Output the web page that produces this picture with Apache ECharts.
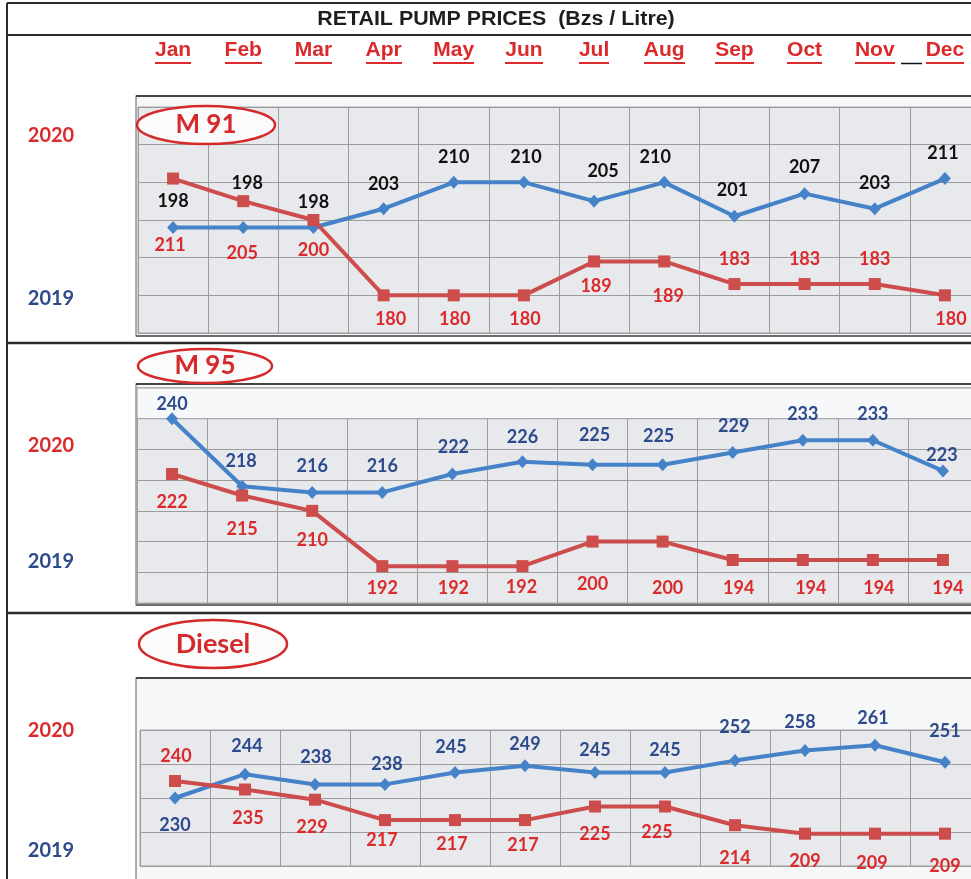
<!DOCTYPE html>
<html>
<head>
<meta charset="utf-8">
<script src="https://cdn.jsdelivr.net/npm/echarts@6/dist/echarts.min.js"></script>
<style>
html,body{margin:0;padding:0;background:#fff;overflow:hidden;width:971px;height:879px;}
#chart{width:990px;height:879px;}
</style>
</head>
<body>
<div id="chart"></div>
<script>
// ---------------- DATA ----------------
const titleText = 'RETAIL PUMP PRICES  (Bzs / Litre)';
const months = ['Jan','Feb','Mar','Apr','May','Jun','Jul','Aug','Sep','Oct','Nov','Dec'];
const yearLabels = ['2020', '2019'];
const productNames = ['M 91', 'M 95', 'Diesel'];

const m91_2019 = [198,198,198,203,210,210,205,210,201,207,203,211];
const m91_2020 = [211,205,200,180,180,180,189,189,183,183,183,180];
const m95_2019 = [240,218,216,216,222,226,225,225,229,233,233,223];
const m95_2020 = [222,215,210,192,192,192,200,200,194,194,194,194];
const diesel_2019 = [230,244,238,238,245,249,245,245,252,258,261,251];
const diesel_2020 = [240,235,229,217,217,217,225,225,214,209,209,209];

// axis ranges per panel [min, max, interval]
const m91Axis = [170, 230, 10];
const m95Axis = [180, 250, 10];
const dieselAxis = [190, 270, 20];

// ---------------- LABEL PLACEMENT (style) ----------------
const m91_2019_lab = [[0,-26],[4,-44],[0,-25],[0,-25],[0,-25],[2,-25],[9,-30],[-9,-25],[-2,-26],[0,-26],[0,-26],[-2,-25]];
const m91_2020_lab = [[-3,67],[-1,52],[0,30],[7,24],[1,24],[1,24],[2,25],[4,35],[0,-25],[0,-25],[0,-25],[6,24]];
const m95_2019_lab = [[0,-15],[-1,-25],[0,-26],[0,-26],[1,-27],[0,-25],[2,-30],[-4,-29],[1,-26],[0,-26],[0,-26],[-1,-16]];
const m95_2020_lab = [[0,28],[0,34],[0,29],[0,22],[1,22],[-1,21],[0,43],[5,47],[6,28],[8,28],[6,28],[5,28]];
const diesel_2019_lab = [[0,27],[2,-28],[1,-27],[2,-20],[-4,-25],[0,-22],[0,-22],[0,-22],[0,-33],[-5,-28],[-2,-27],[0,-31]];
const diesel_2020_lab = [[1,-25],[3,29],[-3,27],[-3,20],[-3,24],[-2,25],[0,28],[-8,26],[0,33],[0,27],[-3,29],[0,32]];

// ---------------- STYLE ----------------
const RED_TXT = '#db2a2c';
const BLUE_TXT = '#2d4a8c';
const BLUE_LINE = '#4682c8';
const RED_LINE = '#cd4d4c';
const PLOT_BG = '#e7e9ec';
const GRID_LINE = '#9c9c9c';

function underlineImage(color){
  const c = document.createElement('canvas');
  c.width = 4; c.height = 25;
  const g = c.getContext('2d');
  g.fillStyle = color;
  g.fillRect(0, 23, 4, 2);
  return c;
}

const grids = [
  {left:138, top:107, width:842, height:226},
  {left:137, top:388, width:841, height:215},
  {left:140, top:730, width:840, height:136}
];
const axes = [m91Axis, m95Axis, dieselAxis];

const xAxes = grids.map((g, i) => ({
  type:'category', gridIndex:i, data: months, boundaryGap:true,
  position: i === 0 ? 'top' : 'bottom',
  offset: i === 0 ? 41 : 0,
  axisLine:{show:false}, axisTick:{show:false},
  axisLabel: i === 0 ? {
    show:true, interval:0, margin:2,
    color: RED_TXT, fontFamily:'Liberation Sans, Arial', fontWeight:'bold', fontSize:21,
    lineHeight:22, padding:[0,0,3,0],
    backgroundColor:{image: underlineImage(RED_TXT)}
  } : {show:false},
  splitLine:{show:true, interval:0, lineStyle:{color:GRID_LINE, width:1}}
}));

const yAxes = grids.map((g, i) => ({
  type:'value', gridIndex:i, min:axes[i][0], max:axes[i][1], interval:axes[i][2],
  axisLine:{show:false}, axisTick:{show:false}, axisLabel:{show:false},
  splitLine:{show:true, lineStyle:{color:GRID_LINE, width:1}}
}));

function makeSeries(name, gi, values, offs, lineColor, symbol, symSize, labColor, extra){
  return Object.assign({
    name, type:'line', xAxisIndex:gi, yAxisIndex:gi,
    data: values.map((v, k) => ({value:v, label:{offset: offs[k]}})),
    symbol, symbolSize: symSize, showAllSymbol:true,
    lineStyle:{color:lineColor, width:4},
    itemStyle:{color:lineColor},
    label:{show:true, position:'inside', color:labColor, fontFamily:'Lato', fontWeight:'bold', fontSize:18},
    emphasis:{disabled:true},
    animation:false, z:3
  }, extra || {});
}

const series = [
  makeSeries('2019', 0, m91_2019, m91_2019_lab, BLUE_LINE, 'diamond', [12,13], '#111111'),
  makeSeries('2020', 0, m91_2020, m91_2020_lab, RED_LINE, 'rect', 12, RED_TXT, {z:4}),
  makeSeries('2019', 1, m95_2019, m95_2019_lab, BLUE_LINE, 'diamond', [12,13], BLUE_TXT, {
    markArea:{silent:true, itemStyle:{color:'#f7f8f9', borderColor:GRID_LINE, borderWidth:1},
      data:[[{yAxis:m95Axis[1]},{yAxis:m95Axis[1]-m95Axis[2]}]]}
  }),
  makeSeries('2020', 1, m95_2020, m95_2020_lab, RED_LINE, 'rect', 12, RED_TXT, {z:4}),
  makeSeries('2019', 2, diesel_2019, diesel_2019_lab, BLUE_LINE, 'diamond', [12,13], BLUE_TXT),
  makeSeries('2020', 2, diesel_2020, diesel_2020_lab, RED_LINE, 'rect', 12, RED_TXT, {z:4})
];

// ---------------- DECORATION ----------------
const dark = '#2a2a2a';
function hline(x1, x2, y, color, w, z){ return {type:'line', shape:{x1, y1:y, x2, y2:y}, style:{stroke:color, lineWidth:w}, z:z||50, silent:true}; }
function vline(x, y1, y2, color, w, z){ return {type:'line', shape:{x1:x, y1, x2:x, y2}, style:{stroke:color, lineWidth:w}, z:z||50, silent:true}; }
function frame(y, h){ return {type:'rect', shape:{x:136, y, width:860, height:h}, style:{fill:'#f6f7f8', stroke:'#777', lineWidth:1.2}, z:-10, silent:true}; }
function oval(cx, cy, rx, ry, text, fs){
  return [
    {type:'ellipse', shape:{cx, cy, rx, ry}, style:{fill:'#fbfbfb', stroke:'#d42a2c', lineWidth:2.5}, z:60, silent:true},
    {type:'text', x:cx, y:cy, style:{text, fill:'#d42a2c', font:'bold '+fs+'px Lato', align:'center', verticalAlign:'middle'}, z:61, silent:true}
  ];
}
function yearText(x, y, t, color){
  return {type:'text', x, y, style:{text:t, fill:color, font:'bold 20px Lato', align:'center', verticalAlign:'middle'}, z:60, silent:true};
}

const graphics = [
  frame(96, 240), frame(384, 221), frame(678, 260),
  hline(136, 990, 96, '#444', 2), hline(136, 990, 384, '#444', 2), hline(136, 990, 678, '#444', 2),
  hline(136, 990, 336, '#555', 1.5), hline(136, 990, 605, '#555', 1.5),
  // outer page frame
  hline(7, 990, 3, dark, 2), vline(7, 3, 879, dark, 2),
  hline(7, 990, 35, dark, 2), hline(7, 990, 343, dark, 2.5), hline(7, 990, 613, dark, 2.5),
  // title
  {type:'text', x:496, y:19, style:{text:titleText, fill:'#1e1e1e', font:'bold 20px "Liberation Sans", Arial', align:'center', verticalAlign:'middle'}, scaleX:1.07, originX:0, originY:0, z:60, silent:true},
  // black stroke before Dec
  hline(901, 922, 63.5, '#111', 1.5),
  // panel 1 oval backing (hides grid line under the text box)
  {type:'rect', shape:{x:139, y:108, width:138, height:35}, style:{fill:PLOT_BG}, z:55, silent:true},
  ...oval(206, 125, 69, 19, productNames[0], 26),
  ...oval(205, 366, 67, 17, productNames[1], 26),
  ...oval(213, 644, 74, 24, productNames[2], 27),
  yearText(51, 136, yearLabels[0], RED_TXT), yearText(51, 299, yearLabels[1], BLUE_TXT),
  yearText(51, 446, yearLabels[0], RED_TXT), yearText(51, 562, yearLabels[1], BLUE_TXT),
  yearText(51, 731, yearLabels[0], RED_TXT), yearText(51, 851, yearLabels[1], BLUE_TXT)
];

const chart = echarts.init(document.getElementById('chart'), null, {renderer:'canvas'});
chart.setOption({
  backgroundColor:'#ffffff',
  animation:false,
  grid: grids.map(g => Object.assign({show:true, backgroundColor:PLOT_BG, borderColor:'#a5a5a5', borderWidth:1, containLabel:false}, g)),
  xAxis: xAxes,
  yAxis: yAxes,
  series,
  graphic: graphics
});
</script>
</body>
</html>
